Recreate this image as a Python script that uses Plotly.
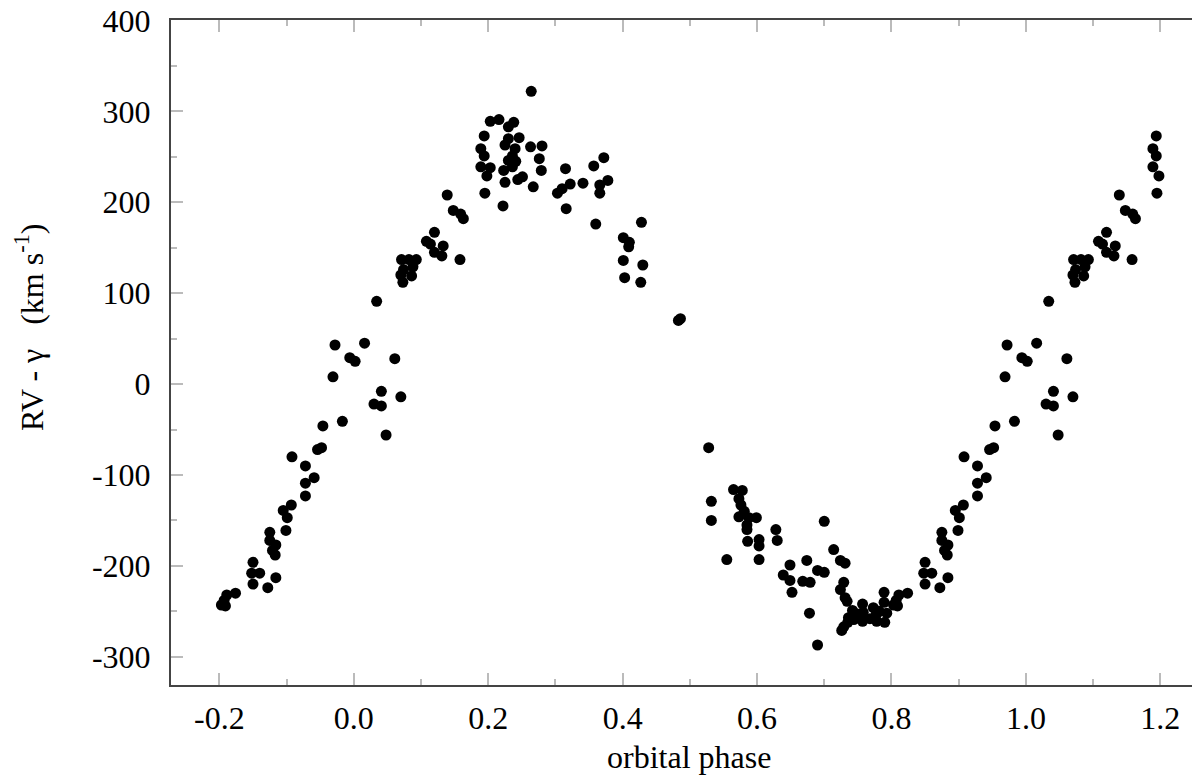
import plotly.graph_objects as go

# Phase-folded radial velocities, one cycle read from -0.2 to 0.8
phase = [
    -0.197, -0.191, -0.193, -0.189, -0.176, -0.150, -0.152, -0.140, -0.150, -0.128,
    -0.116, -0.125, -0.125, -0.116, -0.121, -0.117, -0.101, -0.105, -0.099, -0.093,
    -0.092, -0.072, -0.072, -0.072, -0.059, -0.054, -0.048, -0.046, -0.017,
    -0.031, -0.028, -0.006, 0.002, 0.016, 0.030, 0.041, 0.041, 0.048, 0.061,
    0.070, 0.034, 0.073, 0.070, 0.086, 0.074, 0.088, 0.071, 0.082, 0.093,
    0.108, 0.114, 0.120, 0.120, 0.131, 0.133, 0.139, 0.148, 0.159, 0.163, 0.158,
    0.189, 0.189, 0.194, 0.194, 0.195, 0.198, 0.203, 0.203, 0.216, 0.222,
    0.223, 0.225, 0.225, 0.230, 0.230, 0.230, 0.236, 0.236, 0.238, 0.240,
    0.241, 0.244, 0.246, 0.251, 0.263, 0.264, 0.267, 0.276, 0.279, 0.280,
    0.303, 0.310, 0.315, 0.316, 0.322, 0.341, 0.357, 0.360, 0.366, 0.366,
    0.372, 0.378, 0.401, 0.410, 0.409, 0.401, 0.403, 0.427, 0.430, 0.428,
    0.483, 0.486,
    0.528, 0.532, 0.532, 0.555, 0.565, 0.578, 0.573, 0.576, 0.581, 0.573,
    0.588, 0.599, 0.585, 0.585, 0.603, 0.586, 0.603, 0.603, 0.628, 0.630,
    0.639, 0.649, 0.649, 0.652, 0.668, 0.674, 0.679, 0.678, 0.690, 0.690,
    0.700, 0.700, 0.714, 0.724, 0.731, 0.729, 0.724, 0.731, 0.734, 0.726,
    0.729, 0.735, 0.736, 0.742, 0.744, 0.749, 0.757, 0.757, 0.758, 0.768,
    0.773, 0.777, 0.778, 0.782, 0.789, 0.789, 0.790, 0.793,
]
rv = [
    -243, -244, -238, -232, -230, -196, -208, -208, -220, -224,
    -213, -163, -172, -177, -183, -188, -161, -139, -147, -133,
    -80, -90, -109, -123, -103, -72, -70, -46, -41,
    8, 43, 29, 25, 45, -22, -24, -8, -56, 28,
    -14, 91, 112, 120, 119, 126, 129, 137, 137, 137,
    157, 154, 167, 145, 141, 152, 208, 191, 187, 182, 137,
    259, 239, 273, 251, 210, 229, 289, 238, 291, 196,
    235, 263, 222, 283, 270, 246, 251, 239, 288, 259,
    245, 225, 271, 228, 261, 322, 217, 248, 235, 262,
    210, 215, 237, 193, 220, 221, 240, 176, 219, 210,
    249, 224, 161, 156, 151, 136, 117, 112, 131, 178,
    70, 72,
    -70, -129, -150, -193, -116, -117, -126, -133, -140, -146,
    -147, -147, -155, -160, -171, -173, -178, -193, -160, -172,
    -210, -199, -216, -229, -217, -194, -218, -252, -205, -287,
    -207, -151, -182, -194, -197, -218, -226, -235, -239, -271,
    -267, -262, -257, -249, -259, -253, -242, -261, -251, -258,
    -246, -254, -261, -250, -229, -240, -262, -252,
]

x_ticks = [-0.2, 0.0, 0.2, 0.4, 0.6, 0.8, 1.0, 1.2]
x_labels = ["-0.2", "0.0", "0.2", "0.4", "0.6", "0.8", "1.0", "1.2"]
y_ticks = [-300, -200, -100, 0, 100, 200, 300, 400]
y_labels = ["-300", "-200", "-100", "0", "100", "200", "300", "400"]

# repeat the start of the cycle after phase 1, as usual for folded curves
x_all = phase + [p + 1 for p in phase if p < 0.2]
y_all = rv + [v for p, v in zip(phase, rv) if p < 0.2]

FONT = "Liberation Serif, Times New Roman, serif"
FRAME = "#444444"
TICK = "#bbbbbb"
FS = 32

fig = go.Figure(go.Scatter(
    x=x_all, y=y_all, mode="markers",
    marker=dict(color="black", size=11, line=dict(width=0)),
    showlegend=False,
))

axis_common = dict(
    showgrid=False, zeroline=False, automargin=False,
    showline=True, linecolor=FRAME, linewidth=2, mirror="ticks",
    ticks="inside", ticklen=12, tickwidth=1.5, tickcolor=TICK,
    tickfont=dict(family=FONT, size=FS, color="black"),
    ticklabeloverflow="allow",
)

fig.update_xaxes(
    range=[-0.272, 1.268],
    tickmode="array", tickvals=x_ticks, ticktext=x_labels,
    minor=dict(ticks="inside", dtick=0.1, tick0=0, ticklen=6, tickwidth=1.5, tickcolor=TICK),
    ticklabelstandoff=4,
    **axis_common,
)
fig.update_yaxes(
    range=[-331, 400.5],
    tickmode="array", tickvals=y_ticks, ticktext=y_labels,
    minor=dict(ticks="inside", dtick=50, tick0=0, ticklen=6, tickwidth=1.5, tickcolor=TICK),
    ticklabelstandoff=12,
    **axis_common,
)

# axis titles placed as annotations for exact pixel positions
fig.add_annotation(
    text="orbital phase", xref="paper", yref="paper", x=0.5, y=0,
    xanchor="center", yanchor="middle", yshift=-72, showarrow=False,
    font=dict(family=FONT, size=FS, color="black"),
)
fig.add_annotation(
    text="RV - γ\u00a0\u00a0 (km s<sup>-1</sup>)", xref="paper", yref="paper",
    x=0, y=0.537, xanchor="center", yanchor="middle", xshift=-142,
    textangle=-90, showarrow=False,
    font=dict(family=FONT, size=FS, color="black"),
)

fig.update_layout(
    width=1200, height=778,
    margin=dict(l=163, r=2, t=12, b=101),
    paper_bgcolor="white", plot_bgcolor="white",
)

fig.write_html("out.html")
